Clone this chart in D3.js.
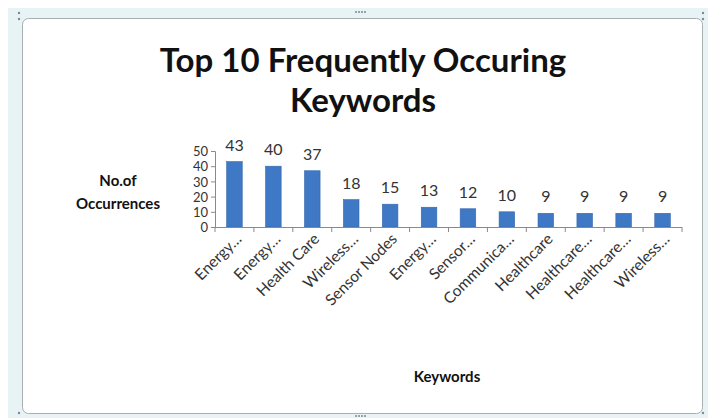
<!DOCTYPE html>
<html>
<head>
<meta charset="utf-8">
<script src="https://cdn.jsdelivr.net/npm/d3@7"></script>
<style>
  body { margin: 0; background: #fff; }
  svg { display: block; }
</style>
</head>
<body>
<svg id="chart" width="708" height="418"></svg>
<script>
// keyword names as shown (Excel truncated the long ones)
const keywords = ["Energy…", "Energy…", "Health Care", "Wireless…", "Sensor Nodes", "Energy…",
  "Sensor…", "Communica…", "Healthcare", "Healthcare…", "Healthcare…", "Wireless…"];
const occurrences = [43, 40, 37, 18, 15, 13, 12, 10, 9, 9, 9, 9];
const yTicks = [0, 10, 20, 30, 40, 50];

const svg = d3.select("#chart");
const font = "Lato, 'Open Sans', sans-serif";

// outer frame of the embedded chart object
svg.append("rect")
  .attr("x", 8).attr("y", 8)
  .attr("width", 700).attr("height", 410)
  .attr("fill", "#e8f3f5");
svg.append("rect")
  .attr("x", 22.5).attr("y", 18.5)
  .attr("width", 680).attr("height", 395)
  .attr("rx", 6)
  .attr("fill", "#fff")
  .attr("stroke", "#a8b0b2");

// little handle dots on the frame
[[19, 13], [19, 19], [703, 13], [703, 19], [19, 413], [703, 413]].forEach(p => {
  svg.append("circle").attr("cx", p[0]).attr("cy", p[1]).attr("r", 1.2).attr("fill", "#7a8a90");
});
d3.range(4).forEach(i => {
  svg.append("circle").attr("cx", 356 + i * 3).attr("cy", 12).attr("r", 1).attr("fill", "#7a8a90");
  svg.append("circle").attr("cx", 356 + i * 3).attr("cy", 416).attr("r", 1).attr("fill", "#7a8a90");
});

// title
const title = svg.append("text")
  .attr("x", 363)
  .attr("text-anchor", "middle")
  .attr("font-family", font)
  .attr("font-weight", "bold")
  .attr("font-size", "33px")
  .attr("fill", "#111");
title.append("tspan").attr("x", 363).attr("y", 72).text("Top 10 Frequently Occuring");
title.append("tspan").attr("x", 363).attr("y", 112).text("Keywords");

const margin = { left: 215, right: 682, top: 151, bottom: 227 };

const x = d3.scaleBand()
  .domain(d3.range(keywords.length))
  .range([margin.left, margin.right])
  .paddingInner(0.6)
  .paddingOuter(0.3);

const y = d3.scaleLinear()
  .domain([0, 50])
  .range([margin.bottom, margin.top]);

// bars
svg.append("g")
  .selectAll("rect")
  .data(occurrences)
  .join("rect")
  .attr("x", (d, i) => x(i))
  .attr("y", d => y(d))
  .attr("width", x.bandwidth())
  .attr("height", d => y(0) - y(d))
  .attr("fill", "#3f78c4")
  .attr("stroke", "#3467ab")
  .attr("stroke-width", 0.6);

// value labels
svg.append("g")
  .selectAll("text")
  .data(occurrences)
  .join("text")
  .attr("x", (d, i) => x(i) + x.bandwidth() / 2)
  .attr("y", d => y(d) - 11)
  .attr("text-anchor", "middle")
  .attr("font-family", font)
  .attr("font-size", "16px")
  .attr("fill", "#333")
  .text(d => d);

// y axis
const yAxis = svg.append("g")
  .attr("transform", `translate(${margin.left},0)`)
  .call(d3.axisLeft(y).tickValues(yTicks).tickSize(4).tickPadding(3));
yAxis.select(".domain").attr("stroke", "#8a8a8a");
yAxis.selectAll(".tick line").attr("stroke", "#8a8a8a");
yAxis.selectAll(".tick text")
  .attr("font-family", font)
  .attr("font-size", "13px")
  .attr("fill", "#333")
  .attr("dy", "0.36em");

// x axis: ticks sit at the category boundaries
const xAxis = svg.append("g");
xAxis.append("line")
  .attr("x1", margin.left).attr("x2", margin.right)
  .attr("y1", margin.bottom + 0.5).attr("y2", margin.bottom + 0.5)
  .attr("stroke", "#8a8a8a");
xAxis.selectAll("line.tick")
  .data(d3.range(keywords.length + 1))
  .join("line")
  .attr("class", "tick")
  .attr("x1", i => margin.left + i * (margin.right - margin.left) / keywords.length)
  .attr("x2", i => margin.left + i * (margin.right - margin.left) / keywords.length)
  .attr("y1", margin.bottom)
  .attr("y2", margin.bottom + 5)
  .attr("stroke", "#8a8a8a");

xAxis.selectAll("text")
  .data(keywords)
  .join("text")
  .attr("transform", (d, i) => `translate(${x(i) + x.bandwidth() / 2 + 8},${margin.bottom + 13}) rotate(-45)`)
  .attr("text-anchor", "end")
  .attr("font-family", font)
  .attr("font-size", "15.5px")
  .attr("fill", "#333")
  .text(d => d);

// axis titles
const yTitle = svg.append("text")
  .attr("text-anchor", "middle")
  .attr("font-family", font)
  .attr("font-weight", "bold")
  .attr("font-size", "15px")
  .attr("fill", "#111");
yTitle.append("tspan").attr("x", 118).attr("y", 186).text("No.of");
yTitle.append("tspan").attr("x", 118).attr("y", 209).text("Occurrences");

svg.append("text")
  .attr("x", 447)
  .attr("y", 382)
  .attr("text-anchor", "middle")
  .attr("font-family", font)
  .attr("font-weight", "bold")
  .attr("font-size", "15px")
  .attr("fill", "#111")
  .text("Keywords");
</script>
</body>
</html>
